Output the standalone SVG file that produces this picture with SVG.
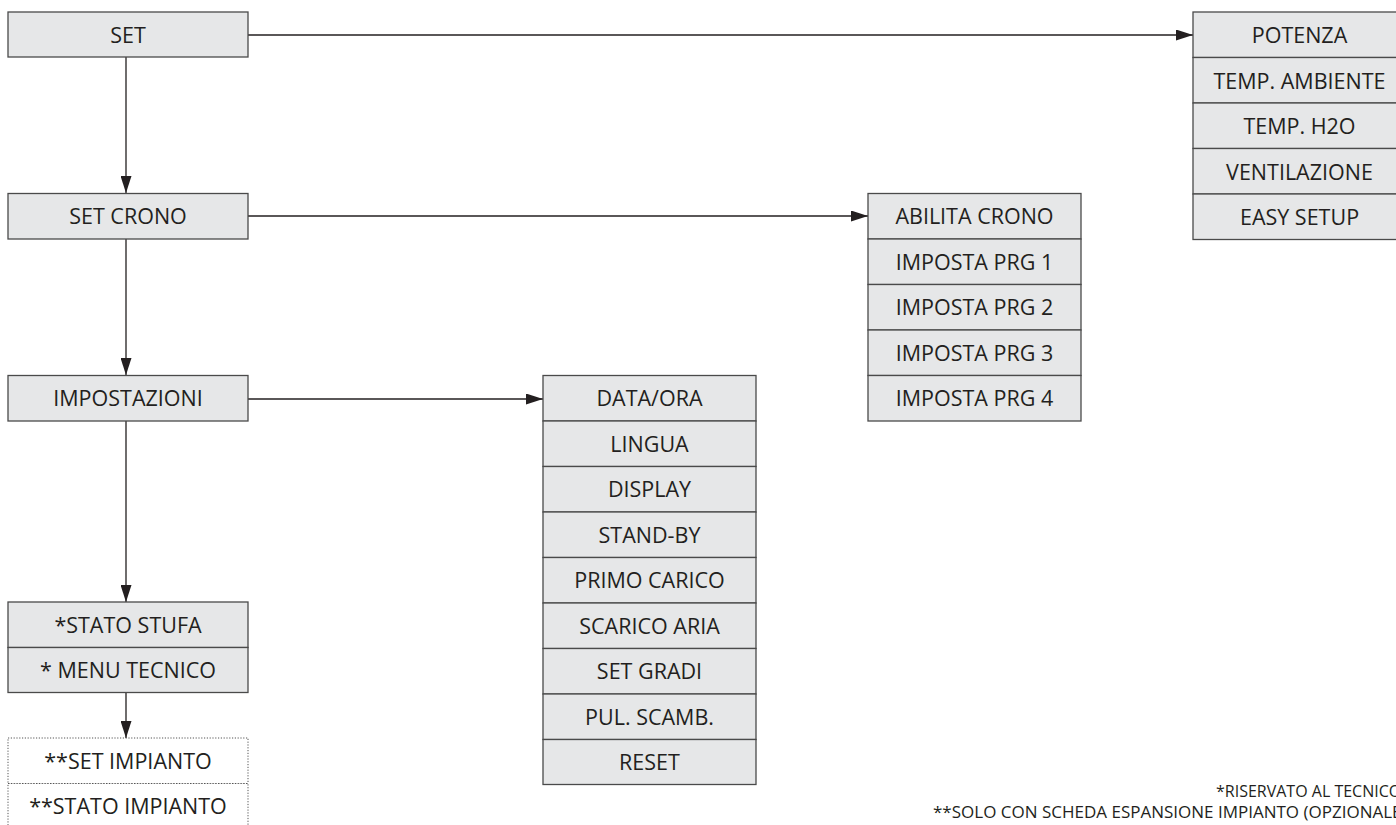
<svg xmlns="http://www.w3.org/2000/svg" width="1396" height="825" viewBox="0 0 1396 825">
<defs>
<style>
.box{fill:#e6e7e8;stroke:#4a4a4a;stroke-width:1.3}
.dot{fill:#ffffff;stroke:#555555;stroke-width:1;stroke-dasharray:1.2 1.6}
.t{font-family:"Open Sans","Liberation Sans",sans-serif;font-size:21.5px;fill:#231f20;text-anchor:middle}
.n{font-family:"Open Sans","Liberation Sans",sans-serif;font-size:17px;fill:#231f20}
.ln{stroke:#231f20;stroke-width:1.3;fill:none}
</style>
<marker id="ah" markerWidth="17" markerHeight="11" refX="17" refY="5.5" orient="auto" markerUnits="userSpaceOnUse">
<path d="M0,0 L17,5.5 L0,11 Z" fill="#231f20"/>
</marker>
</defs>
<rect width="1396" height="825" fill="#ffffff"/>

<g id="connectors">
<line class="ln" x1="248" y1="35" x2="1193" y2="35" marker-end="url(#ah)"/>
<line class="ln" x1="248" y1="216" x2="868" y2="216" marker-end="url(#ah)"/>
<line class="ln" x1="248" y1="399" x2="543" y2="399" marker-end="url(#ah)"/>
<line class="ln" x1="126" y1="57" x2="126" y2="193" marker-end="url(#ah)"/>
<line class="ln" x1="126" y1="239" x2="126" y2="375" marker-end="url(#ah)"/>
<line class="ln" x1="126" y1="421" x2="126" y2="602" marker-end="url(#ah)"/>
<line class="ln" x1="126" y1="692" x2="126" y2="738" marker-end="url(#ah)"/>
</g>

<g id="set">
<rect class="box" x="8" y="12" width="240" height="45"/>
<text class="t" x="128" y="43">SET</text>
</g>
<g id="set-crono">
<rect class="box" x="8" y="193.5" width="240" height="45.5"/>
<text class="t" x="128" y="224">SET CRONO</text>
</g>
<g id="impostazioni">
<rect class="box" x="8" y="375.5" width="240" height="45.5"/>
<text class="t" x="128" y="406">IMPOSTAZIONI</text>
</g>
<g id="tecnico">
<rect class="box" x="8" y="602" width="240" height="45.5"/>
<rect class="box" x="8" y="647.5" width="240" height="45"/>
<text class="t" x="128" y="633">*STATO STUFA</text>
<text class="t" x="128" y="678">* MENU TECNICO</text>
</g>
<g id="impianto">
<rect class="dot" x="8" y="738" width="240" height="45.5"/>
<rect class="dot" x="8" y="783.5" width="240" height="45.5"/>
<text class="t" x="128" y="769">**SET IMPIANTO</text>
<text class="t" x="128" y="814">**STATO IMPIANTO</text>
</g>

<g id="set-menu">
<rect class="box" x="1193" y="12" width="213" height="45.5"/>
<rect class="box" x="1193" y="57.5" width="213" height="45.5"/>
<rect class="box" x="1193" y="103" width="213" height="45.5"/>
<rect class="box" x="1193" y="148.5" width="213" height="45.5"/>
<rect class="box" x="1193" y="194" width="213" height="45.5"/>
<text class="t" x="1299.5" y="43">POTENZA</text>
<text class="t" x="1299.5" y="88.5">TEMP. AMBIENTE</text>
<text class="t" x="1299.5" y="134">TEMP. H2O</text>
<text class="t" x="1299.5" y="179.5">VENTILAZIONE</text>
<text class="t" x="1299.5" y="225">EASY SETUP</text>
</g>

<g id="crono-menu">
<rect class="box" x="868" y="193.5" width="213" height="45.5"/>
<rect class="box" x="868" y="239" width="213" height="45.5"/>
<rect class="box" x="868" y="284.5" width="213" height="45.5"/>
<rect class="box" x="868" y="330" width="213" height="45.5"/>
<rect class="box" x="868" y="375.5" width="213" height="45.5"/>
<text class="t" x="974.5" y="224">ABILITA CRONO</text>
<text class="t" x="974.5" y="269.5">IMPOSTA PRG 1</text>
<text class="t" x="974.5" y="315">IMPOSTA PRG 2</text>
<text class="t" x="974.5" y="360.5">IMPOSTA PRG 3</text>
<text class="t" x="974.5" y="406">IMPOSTA PRG 4</text>
</g>

<g id="impostazioni-menu">
<rect class="box" x="543" y="375.5" width="213" height="45.5"/>
<rect class="box" x="543" y="421" width="213" height="45.5"/>
<rect class="box" x="543" y="466.5" width="213" height="45.5"/>
<rect class="box" x="543" y="512" width="213" height="45.5"/>
<rect class="box" x="543" y="557.5" width="213" height="45.5"/>
<rect class="box" x="543" y="603" width="213" height="45.5"/>
<rect class="box" x="543" y="648.5" width="213" height="45.5"/>
<rect class="box" x="543" y="694" width="213" height="45.5"/>
<rect class="box" x="543" y="739.5" width="213" height="45"/>
<text class="t" x="649.5" y="406">DATA/ORA</text>
<text class="t" x="649.5" y="451.5">LINGUA</text>
<text class="t" x="649.5" y="497">DISPLAY</text>
<text class="t" x="649.5" y="542.5">STAND-BY</text>
<text class="t" x="649.5" y="588">PRIMO CARICO</text>
<text class="t" x="649.5" y="633.5">SCARICO ARIA</text>
<text class="t" x="649.5" y="679">SET GRADI</text>
<text class="t" x="649.5" y="724.5">PUL. SCAMB.</text>
<text class="t" x="649.5" y="770">RESET</text>
</g>

<g id="notes">
<text class="n" x="1216" y="797" style="font-size:16px">*RISERVATO AL TECNICO</text>
<text class="n" x="933" y="818">**SOLO CON SCHEDA ESPANSIONE IMPIANTO (OPZIONALE)</text>
</g>
</svg>
